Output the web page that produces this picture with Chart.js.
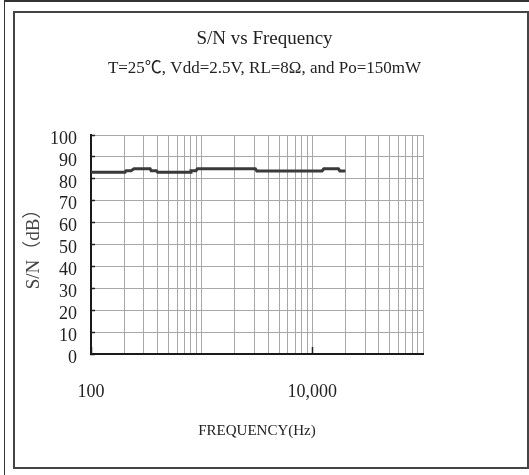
<!DOCTYPE html>
<html>
<head>
<meta charset="utf-8">
<script src="https://cdn.jsdelivr.net/npm/chart.js@4/dist/chart.umd.min.js"></script>
<style>
  body { margin: 0; background: #fff; width: 529px; height: 475px; overflow: hidden; position: relative; }
  .outer { position: absolute; left: 4px; top: 0; width: 700px; height: 700px; border-left: 1px solid #333; border-top: 2px solid #333; }
  .inner { position: absolute; left: 13px; top: 11px; width: 512px; height: 454px; border: 2px solid #444; }
  #c { position: absolute; left: 0; top: 0; }
</style>
</head>
<body>
<div class="outer"></div>
<div class="inner"></div>
<canvas id="c" width="529" height="475"></canvas>
<script>
const freqHz = [100, 203, 208, 230, 245, 342, 350, 390, 400, 787, 800, 890, 915, 3050, 3150, 12240, 12700, 17190, 17700, 19900];
const snDb   = [83, 83, 83.7, 83.7, 84.6, 84.6, 83.7, 83.7, 83, 83, 83.7, 83.7, 84.6, 84.6, 83.6, 83.6, 84.6, 84.6, 83.6, 83.6];

// axis labels
const xTickValues = [100, 10000];
const xTickText = ['100', '10,000'];
const yTicks = [0, 10, 20, 30, 40, 50, 60, 70, 80, 90, 100];

// log grid: 1..9 in every decade from 100 Hz to 100 kHz
const decades = [100, 1000, 10000];
const xGrid = [];
decades.forEach(d => { for (let m = 1; m <= 9; m++) xGrid.push(d * m); });
xGrid.push(100000);

const serif = "'Liberation Serif', 'Noto Sans CJK SC', serif";
const ink = '#222';
const gridGray = '#a8a8a8';

new Chart(document.getElementById('c'), {
  type: 'line',
  data: {
    datasets: [{
      data: freqHz.map((f, i) => ({ x: f, y: snDb[i] })),
      borderColor: '#3a3a3a',
      borderWidth: 3,
      pointRadius: 0,
      tension: 0,
      fill: false,
    }],
  },
  options: {
    responsive: false,
    animation: false,
    layout: { padding: { top: 18, left: 0, right: 0, bottom: 0 } },
    plugins: {
      legend: { display: false },
      tooltip: { enabled: false },
      title: {
        display: true,
        text: 'S/N vs Frequency',
        color: ink,
        font: { family: serif, size: 19, weight: 'normal' },
        padding: { top: 10, bottom: 6 },
      },
      subtitle: {
        display: true,
        text: 'T=25℃, Vdd=2.5V, RL=8Ω, and Po=150mW',
        color: ink,
        font: { family: serif, size: 17, weight: 'normal' },
        padding: { top: 2, bottom: 55.8 },
      },
    },
    scales: {
      x: {
        type: 'logarithmic',
        min: 100,
        max: 100000,
        afterBuildTicks: (scale) => {
          scale.ticks = xGrid.map(v => ({ value: v }));
        },
        afterFit: (scale) => { scale.height = 121; },
        grid: {
          color: gridGray,
          lineWidth: 1,
          drawTicks: true,
          tickLength: -7,
          tickColor: (c) => (xTickValues.includes(c.tick && c.tick.value) ? ink : 'transparent'),
          tickWidth: 1.5,
        },
        border: { color: '#1a1a1a', width: 2 },
        ticks: {
          autoSkip: false,
          maxRotation: 0,
          padding: 34.2,
          color: ink,
          font: { family: serif, size: 18 },
          callback: (v) => {
            const i = xTickValues.indexOf(v);
            return i >= 0 ? xTickText[i] : '';
          },
        },
        title: {
          display: true,
          text: 'FREQUENCY(Hz)',
          color: ink,
          font: { family: serif, size: 15 },
          padding: { top: 0, bottom: 35 },
        },
      },
      y: {
        min: 0,
        max: 100,
        afterBuildTicks: (scale) => {
          scale.ticks = yTicks.map(v => ({ value: v }));
        },
        afterFit: (scale) => { scale.width = 91; },
        grid: {
          color: gridGray,
          lineWidth: 1,
          drawTicks: true,
          tickLength: -4,
          tickColor: ink,
          tickWidth: 1.5,
        },
        border: { color: '#1a1a1a', width: 2 },
        ticks: {
          autoSkip: false,
          padding: 18,
          labelOffset: 4,
          color: ink,
          font: { family: serif, size: 18 },
        },
        title: {
          display: true,
          text: 'S/N（dB）',
          color: '#444',
          font: { family: serif, size: 19 },
          padding: { top: 22.6, bottom: 0 },
        },
      },
      // empty right margin so the titles centre on the whole frame
      margin: {
        type: 'linear',
        position: 'right',
        afterFit: (scale) => { scale.width = 106; },
        grid: { display: false },
        border: { display: false },
        ticks: { display: false },
      },
    },
  },
});
</script>
</body>
</html>
